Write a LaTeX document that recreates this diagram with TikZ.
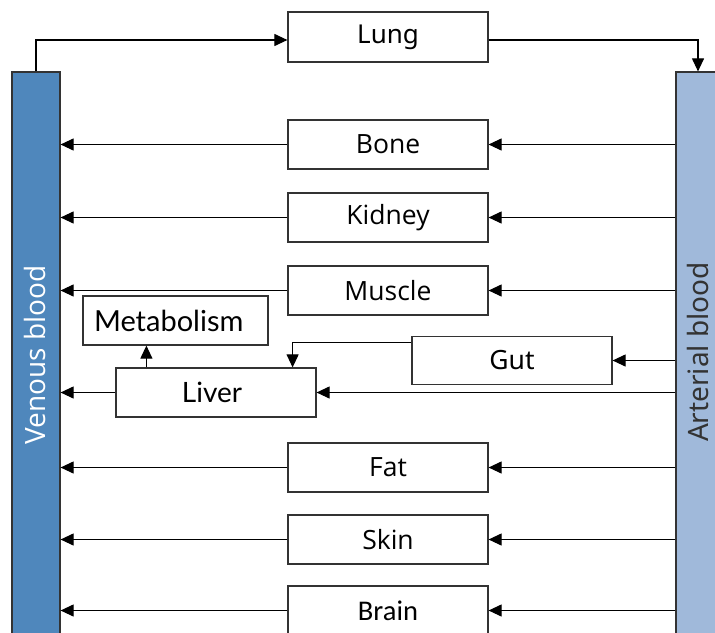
\documentclass[tikz,border=0pt]{standalone}
\usepackage{fontspec}
\usetikzlibrary{arrows.meta,calc}
\newfontfamily\latof{Lato}
\newfontfamily\notof{Noto Sans}
\newfontfamily\opensf{Open Sans}
\newfontfamily\carlf{Carlito}
\definecolor{venc}{HTML}{4F87BC}
\definecolor{artc}{HTML}{A0B9DA}
\definecolor{linec}{HTML}{333333}
\begin{document}
\begin{tikzpicture}[x=1pt,y=-1pt,
  organ/.style={draw=linec,line width=1.2pt,fill=white,minimum width=200pt,minimum height=49pt,inner sep=0pt,text=black},
  bar/.style={draw=linec,line width=1.2pt,minimum width=48pt,minimum height=568pt,inner sep=0pt},
  arr/.style={draw=black,line width=1.1pt,-{Triangle[length=13pt,width=12pt]}},
  fsz/.style 2 args={font=#1\fontsize{#2}{#2}\selectfont}]
\useasboundingbox (0,0) rectangle (715,632);
\clip (0,0) rectangle (715,632);
\node[bar,fill=venc] (ven) at (36,356) {};
\node[bar,fill=artc] (art) at (700,356) {};
\node[rotate=90,anchor=base,inner sep=0pt,text=white,fsz={\opensf}{28}] (ventxt) at (45,355) {Venous blood};
\node[rotate=90,anchor=base,inner sep=0pt,text=linec,fsz={\notof}{28}] (arttxt) at (708,352) {Arterial blood};
\node[organ,fsz={\notof}{26},minimum height=50pt] (lung) at (388,37) {Lung};
\node[organ,fsz={\opensf}{26.5}] (bone) at (388,144.5) {Bone};
\node[organ,fsz={\opensf}{26.5}] (kid) at (388,217.5) {Kidney};
\node[organ,fsz={\opensf}{26.5}] (mus) at (388,290.5) {Muscle};
\node[organ,fsz={\opensf}{26.5}] (fat) at (388,467.5) {Fat};
\node[organ,fsz={\opensf}{26.5}] (skin) at (388,539.5) {Skin};
\node[organ,fsz={\carlf}{28.5}] (brain) at (388,610.5) {Brain};
\node[organ,fsz={\latof}{29},minimum width=185pt,text width=185pt,align=left,inner sep=0pt] (met) at (175.5,320.5) {\hspace*{11pt}Metabolism};
\node[organ,fsz={\latof}{28}] (liver) at (216,392.5) {\hspace*{-8pt}Liver};
\node[organ,fsz={\notof}{26.5},minimum height=48pt] (gut) at (512,360.5) {Gut};
% lung loop
\draw[arr] (ven.north) |- ($(lung.west)+(0,3)$);
\draw[arr] ($(lung.east)+(0,3)$) -| ($(art.north)+(-2,0)$);
% organs
\foreach \o in {bone,kid,mus,fat,skin,brain,liver}{
  \draw[arr] (\o.east -| art.west) -- (\o.east);
  \draw[arr] (\o.west) -- (\o.west -| ven.east);
}
\draw[arr] (gut.east -| art.west) -- (gut.east);
\coordinate (g1) at ($(gut.north west)+(0,7)$);
\draw[arr] (g1) -| ($(liver.north east)+(-24,0)$);
\draw[arr] ($(liver.north west)+(31,0)$) -- ($(met.south west)+(64,0)$);
\end{tikzpicture}
\end{document}
